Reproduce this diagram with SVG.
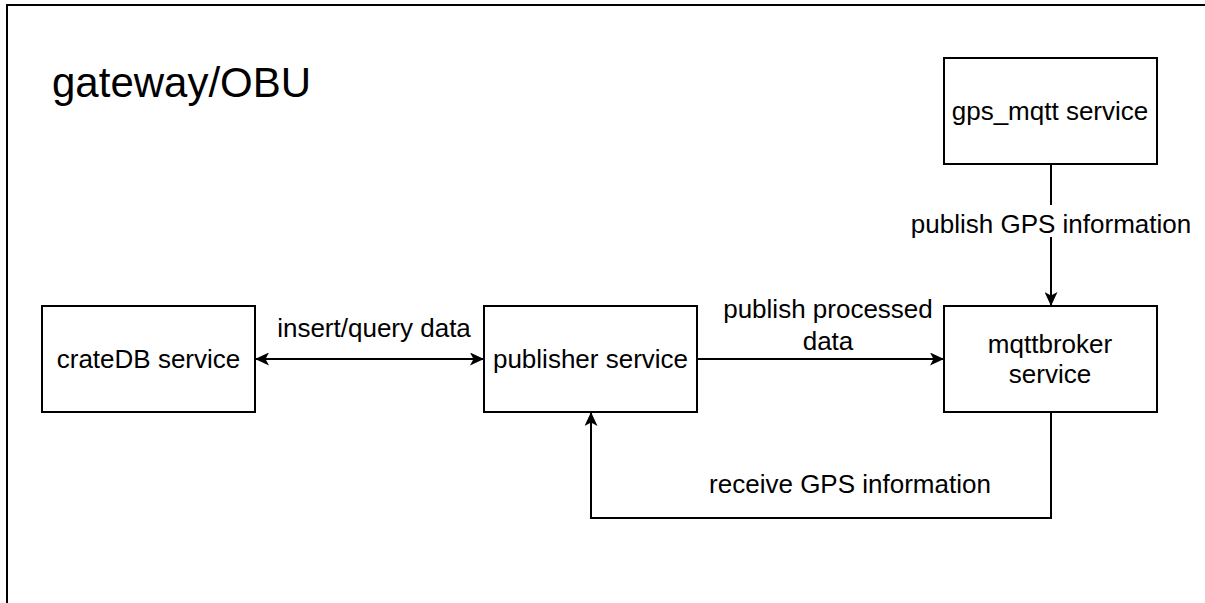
<svg xmlns="http://www.w3.org/2000/svg" width="1205" height="603" viewBox="0 0 1205 603">
  <style>
    .box { fill: #ffffff; stroke: #000000; stroke-width: 2; }
    .edge { fill: none; stroke: #000000; stroke-width: 2; }
    .lbl { font-family: "Liberation Sans", Arial, sans-serif; font-size: 26px; fill: #000000; text-anchor: middle; }
    .title { font-family: "Liberation Sans", Arial, sans-serif; font-size: 42px; fill: #000000; }
  </style>
  <defs>
    <marker id="arrow" viewBox="0 0 14 13" refX="13" refY="6.5" markerWidth="14" markerHeight="13" markerUnits="userSpaceOnUse" orient="auto-start-reverse">
      <path d="M0,0 L14,6.5 L0,13 L3.5,6.5 Z" fill="#000000"/>
    </marker>
  </defs>

  <rect width="1205" height="603" fill="#ffffff"/>

  <!-- outer container -->
  <g id="gateway">
    <rect x="7" y="5" width="1220" height="640" fill="#ffffff" stroke="#000000" stroke-width="2"/>
    <text class="title" x="52" y="97">gateway/OBU</text>
  </g>

  <!-- connectors -->
  <g id="connectors">
    <line class="edge" x1="256" y1="359" x2="483" y2="359" marker-start="url(#arrow)" marker-end="url(#arrow)"/>
    <line class="edge" x1="697" y1="359" x2="943" y2="359" marker-end="url(#arrow)"/>
    <line class="edge" x1="1051" y1="164" x2="1051" y2="305" marker-end="url(#arrow)"/>
    <polyline class="edge" points="1051,412 1051,518 591,518 591,413" marker-end="url(#arrow)"/>
    <text class="lbl" x="374" y="337">insert/query data</text>
    <text class="lbl" x="828" y="318">publish processed</text>
    <text class="lbl" x="828" y="350">data</text>
    <rect x="905" y="205" width="292" height="32" fill="#ffffff"/>
    <text class="lbl" x="1051" y="233">publish GPS information</text>
    <text class="lbl" x="850" y="493">receive GPS information</text>
  </g>

  <g id="gps_mqtt">
    <rect class="box" x="944" y="58" width="213" height="106"/>
    <text class="lbl" x="1050" y="120">gps_mqtt service</text>
  </g>

  <g id="mqttbroker">
    <rect class="box" x="944" y="306" width="213" height="106"/>
    <text class="lbl" x="1050" y="353">mqttbroker</text>
    <text class="lbl" x="1050" y="383">service</text>
  </g>

  <g id="publisher">
    <rect class="box" x="484" y="306" width="213" height="106"/>
    <text class="lbl" x="590.5" y="368">publisher service</text>
  </g>

  <g id="crateDB">
    <rect class="box" x="42" y="306" width="213" height="106"/>
    <text class="lbl" x="148.5" y="368">crateDB service</text>
  </g>
</svg>
